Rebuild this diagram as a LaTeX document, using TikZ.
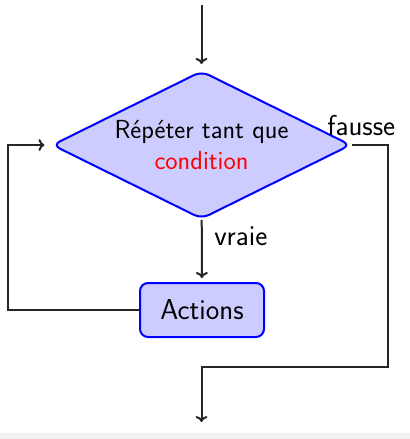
\documentclass[tikz,border=0pt]{standalone}
\usepackage{fontspec}
\usetikzlibrary{shapes.geometric,arrows.meta}
\definecolor{boxfill}{RGB}{204,204,255}
\definecolor{bandgray}{RGB}{242,242,242}
\begin{document}
\begin{tikzpicture}[x=0.75pt,y=-0.75pt,
  line width=1.5pt,
  flow/.style={draw=black!85,-{To[length=4.5pt,width=9pt]}},
  decision/.style={diamond,aspect=2,draw=blue,fill=boxfill,line width=1.5pt,rounded corners=6pt,
    inner sep=0pt,minimum width=224pt,minimum height=111pt,align=center,
    font=\sffamily\fontsize{19.6}{23}\selectfont},
  actionbox/.style={rectangle,draw=blue,fill=boxfill,line width=1.5pt,rounded corners=6pt,
    minimum width=93pt,minimum height=40.5pt,font=\sffamily\fontsize{21.6}{26}\selectfont},
  lbl/.style={inner sep=0pt,font=\sffamily\fontsize{21.6}{26}\selectfont}]
\useasboundingbox (0,0) rectangle (410,439);
\fill[bandgray] (0,433) rectangle (410,439);
\node[decision] (cond) at (201.5,145) {Répéter tant que\\\textcolor{red}{condition}};
\node[actionbox] (act) at (202,310) {Actions};
\coordinate (start) at (201.5,5);
\coordinate (lc) at (8,310);
\coordinate (rc) at (388,145);
\coordinate (mc) at (201.5,367);
\coordinate (finish) at (201.5,422);
\draw[flow,shorten >=4.5pt] (start) -- (cond);
\draw[flow,shorten >=3pt] (cond) -- node[lbl,pos=0.42,anchor=base west,xshift=8.6pt]{vraie} (act);
\draw[flow,shorten >=5pt] (act) -- (lc) |- (cond);
\draw[flow] (cond) -- node[lbl,pos=0.26,anchor=base,yshift=7.5pt]{fausse} (rc) |- (mc) -- (finish);
\end{tikzpicture}
\end{document}
